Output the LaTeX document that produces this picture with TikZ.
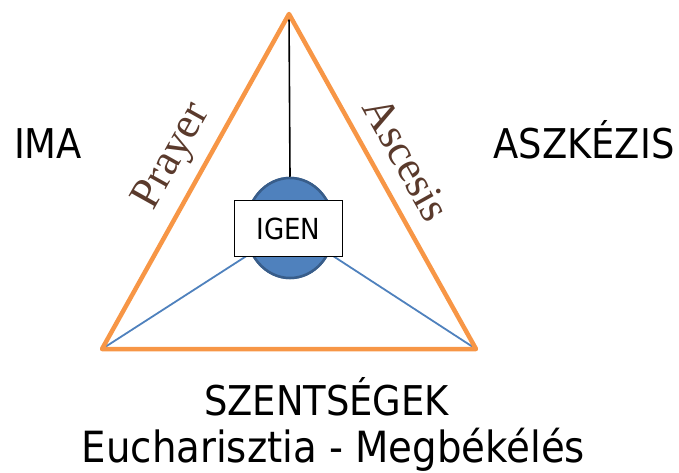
\documentclass[tikz,border=0pt]{standalone}
\usepackage{fontspec}
\setmainfont{DejaVu Sans Condensed}
\newfontfamily\serifx{Liberation Serif}
\usetikzlibrary{shapes.geometric}
\definecolor{orng}{HTML}{F79646}
\definecolor{blu}{HTML}{4F81BD}
\definecolor{bludk}{HTML}{385D8A}
\definecolor{brwn}{HTML}{5A3A2C}
\tikzset{
  bigtxt/.style={font=\fontsize{41}{45}\selectfont, anchor=base, inner sep=0pt},
  sidetxt/.style={font=\serifx\fontsize{44}{48}\selectfont, text=brwn, inner sep=0pt},
  tri/.style={draw=orng, line width=4.5pt, line join=round},
  thin/.style={draw=blu, line width=1.8pt},
  blob/.style={ellipse, minimum width=88pt, minimum height=100pt, fill=blu, draw=bludk, line width=2.5pt, inner sep=0pt},
}
\begin{document}
\begin{tikzpicture}[x=1pt,y=-1pt]
\useasboundingbox (0,0) rectangle (679,473);
\coordinate (A) at (289,14);
\coordinate (B) at (102,349);
\coordinate (C) at (476,349);
\node[blob] (ell) at (290,228) {};
\draw[thin] (B) -- (ell);
\draw[thin] (C) -- (ell);
\node[blob] (ell2) at (290,228) {};
\draw[black, line width=1.6pt] (A) -- (ell.north);
\node[draw=black, fill=white, line width=1.3pt, minimum width=108pt, minimum height=56pt, inner sep=0pt, font=\fontsize{29}{32}\selectfont] (box) at (288.5,228.5) {IGEN};
\draw[tri] (A) -- (B) -- (C) -- cycle;
\node[sidetxt, rotate=60.8] (pr) at (173,157) {Prayer};
\node[sidetxt, rotate=-60.8] (as) at (407,159) {Ascesis};
\node[bigtxt] (ima) at (48,158) {IMA};
\node[bigtxt] (asz) at (584,158) {ASZKÉZIS};
\node[bigtxt] (szt) at (326.5,415) {SZENTSÉGEK};
\node[bigtxt, font=\fontsize{43}{47}\selectfont] (euc) at (333.5,462) {Eucharisztia - Megbékélés};
\end{tikzpicture}
\end{document}
